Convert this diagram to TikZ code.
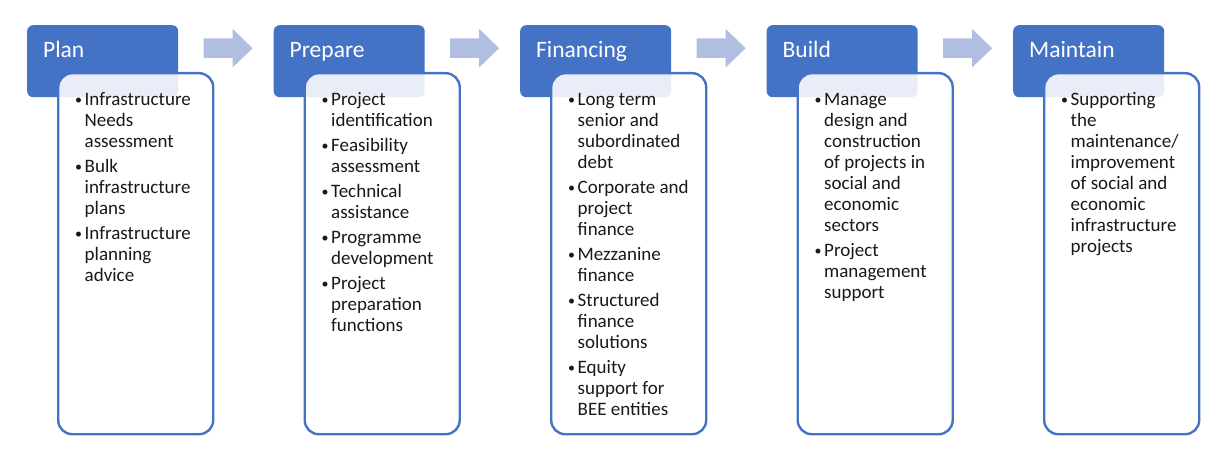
\documentclass[tikz,border=0pt]{standalone}
\usepackage{fontspec}
\setmainfont{Carlito}
\usetikzlibrary{shapes.arrows,positioning}

\definecolor{hdrblue}{RGB}{68,114,196}
\definecolor{flowblue}{RGB}{176,190,225}
\definecolor{itemtext}{RGB}{25,25,25}

\tikzset{
  header/.style={fill=hdrblue, rounded corners=6pt, minimum width=151pt,
    minimum height=72pt, anchor=north west, inner sep=0pt},
  headtext/.style={text=white, font=\fontsize{23.5}{27}\selectfont,
    anchor=base west, inner sep=0pt},
  body/.style={draw=hdrblue, line width=2.4pt, fill=white, fill opacity=0.88,
    rounded corners=14pt, minimum width=155pt, minimum height=361pt,
    anchor=north west, inner sep=0pt},
  items/.style={text=itemtext, font=\fontsize{19}{21}\selectfont,
    anchor=base west, inner sep=0pt},
  flow/.style={single arrow, fill=flowblue, minimum height=49pt,
    minimum width=38pt, single arrow head extend=9.5pt,
    single arrow tip angle=88, inner sep=0pt, text height=19pt, text depth=0pt}
}

\newcommand{\bl}{\makebox[10pt][l]{\hspace{0.5pt}\raisebox{1.5pt}{\fontsize{14}{14}\selectfont\textbullet}}}

\begin{document}
\begin{tikzpicture}[x=1pt,y=-1pt]
  \useasboundingbox (0,0) rectangle (1211,454);

  % Headers
  \node[header] (plan) at (27,25) {};
  \node[header] (prepare) at (273.5,25) {};
  \node[header] (financing) at (520,25) {};
  \node[header] (build) at (766.5,25) {};
  \node[header] (maintain) at (1013,25) {};

  % Arrows between headers
  \node[flow, right=25pt of plan, yshift=13pt] (plantoprep) {};
  \node[flow, right=25pt of prepare, yshift=13pt] (preptofin) {};
  \node[flow, right=25pt of financing, yshift=13pt] (fintobuild) {};
  \node[flow, right=25pt of build, yshift=13pt] (buildtomaint) {};

  % Header titles
  \node[headtext] (plantitle) at (43,58) {Plan};
  \node[headtext] (preparetitle) at (289.5,58) {Prepare};
  \node[headtext] (financingtitle) at (536,58) {Financing};
  \node[headtext] (buildtitle) at (782.5,58) {Build};
  \node[headtext] (maintaintitle) at (1029,58) {Maintain};

  % Bodies (drawn over the headers)
  \node[body] (planbody) at (57,72) {};
  \node[body] (preparebody) at (303.5,72) {};
  \node[body] (financingbody) at (550,72) {};
  \node[body] (buildbody) at (796.5,72) {};
  \node[body] (maintainbody) at (1043,72) {};

  % Bullet lists
  \node[items] (planlist) at (74.5,106) {\begin{tabular}[t]{@{}l@{}l@{}}
    \bl & Infrastructure\\ & Needs\\ & assessment\\[4pt]
    \bl & Bulk\\ & infrastructure\\ & plans\\[4pt]
    \bl & Infrastructure\\ & planning\\ & advice
  \end{tabular}};
  \node[items] (preparelist) at (321,106) {\begin{tabular}[t]{@{}l@{}l@{}}
    \bl & Project\\ & identification\\[4pt]
    \bl & Feasibility\\ & assessment\\[4pt]
    \bl & Technical\\ & assistance\\[4pt]
    \bl & Programme\\ & development\\[4pt]
    \bl & Project\\ & preparation\\ & functions
  \end{tabular}};
  \node[items] (financinglist) at (567.5,106) {\begin{tabular}[t]{@{}l@{}l@{}}
    \bl & Long term\\ & senior and\\ & subordinated\\ & debt\\[4pt]
    \bl & Corporate and\\ & project\\ & finance\\[4pt]
    \bl & Mezzanine\\ & finance\\[4pt]
    \bl & Structured\\ & finance\\ & solutions\\[4pt]
    \bl & Equity\\ & support for\\ & BEE entities
  \end{tabular}};
  \node[items] (buildlist) at (814,106) {\begin{tabular}[t]{@{}l@{}l@{}}
    \bl & Manage\\ & design and\\ & construction\\ & of projects in\\ & social and\\ & economic\\ & sectors\\[4pt]
    \bl & Project\\ & management\\ & support
  \end{tabular}};
  \node[items] (maintainlist) at (1060.5,106) {\begin{tabular}[t]{@{}l@{}l@{}}
    \bl & Supporting\\ & the\\ & maintenance/\\ & improvement\\ & of social and\\ & economic\\ & infrastructure\\ & projects
  \end{tabular}};

\end{tikzpicture}
\end{document}
